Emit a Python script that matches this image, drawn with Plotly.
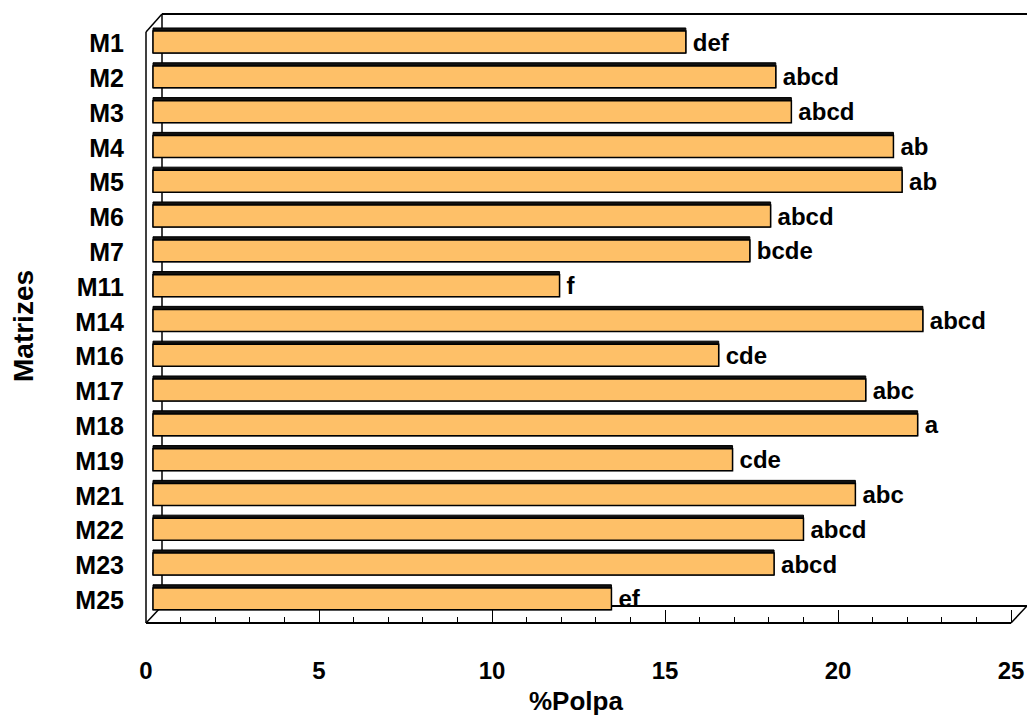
import plotly.graph_objects as go

# Data
categories = ["M1", "M2", "M3", "M4", "M5", "M6", "M7", "M11", "M14",
              "M16", "M17", "M18", "M19", "M21", "M22", "M23", "M25"]
polpa = [15.4, 18.0, 18.45, 21.4, 21.65, 17.85, 17.25, 11.75, 22.25,
         16.35, 20.6, 22.1, 16.75, 20.3, 18.8, 17.95, 13.25]
letters = ["def", "abcd", "abcd", "ab", "ab", "abcd", "bcde", "f", "abcd",
           "cde", "abc", "a", "cde", "abc", "abcd", "abcd", "ef"]
x_ticks = [0, 5, 10, 15, 20, 25]

# Page geometry (pixels)
W, H = 1027, 719
L, R, T, B = 146, 1018, 14, 623          # plot area edges
DEPTH_X, DEPTH_Y = 16, 17                # 3-D floor/wall depth
BAR_SHIFT = 7                            # bar plane offset from front plane
PX_PER_UNIT = (R - L - BAR_SHIFT) / 25.0

FONT = "Liberation Sans, Arial, sans-serif"
ORANGE = "#FEC068"

idx = list(range(len(categories)))
step = 34.8                                 # px per category
first_c = 40.5                              # px of first bar centre
y_top = -(first_c - T) / step
y_bot = (B - first_c) / step

fig = go.Figure()

# dark top face of each bar (3-D depth strip)
fig.add_trace(go.Bar(
    x=polpa, y=idx, orientation="h",
    width=0.72, offset=-0.36,
    marker=dict(color="#111111", line=dict(color="#000000", width=1)),
    hoverinfo="skip", showlegend=False,
))
# front face of each bar
fig.add_trace(go.Bar(
    x=polpa, y=idx, orientation="h",
    width=0.63, offset=-0.27,
    marker=dict(color=ORANGE, line=dict(color="#000000", width=1.5)),
    text=["\u2006" + s for s in letters], textposition="outside",
    constraintext="none",
    textfont=dict(family=FONT, size=24, color="#000000", weight="bold"),
    cliponaxis=False, showlegend=False,
))
# invisible trace that carries the front (labelled) value axis
fig.add_trace(go.Scatter(x=[0, 25], y=[0, 0], xaxis="x2", mode="markers",
                         marker=dict(opacity=0), hoverinfo="skip",
                         showlegend=False))


def px_x(p):
    return (p - L) / (R - L)


def px_y(p):
    return (B - p) / (B - T)


def seg(x0, y0, x1, y1, w=1.5):
    return dict(type="line", xref="paper", yref="paper",
                x0=px_x(x0), y0=px_y(y0), x1=px_x(x1), y1=px_y(y1),
                line=dict(color="#000000", width=w), layer="below")


front0 = L
front25 = L + 25 * PX_PER_UNIT
back_l = L + DEPTH_X
back_y = B - DEPTH_Y
top_l = T + DEPTH_Y + 1

shapes = [
    seg(back_l, T, W + 5, T, 2),                 # back wall top edge
    seg(back_l, T, back_l, back_y, 1.5),         # back wall left edge
    seg(L, top_l, L, B, 1.5),                    # left wall outer edge
    seg(L, top_l, back_l, T, 1.5),               # left wall top diagonal
    seg(back_l, back_y, W + 5, back_y, 2),       # floor back edge
    seg(front0, B, front25, B, 2),               # floor front edge
    seg(front0, B, back_l, back_y, 1.5),         # floor left diagonal
    seg(front25, B, front25 + DEPTH_X, back_y, 1.5),  # floor right diagonal
]

fig.update_layout(
    width=W, height=H,
    margin=dict(l=L, r=W - R, t=T, b=H - B, pad=0, autoexpand=False),
    paper_bgcolor="#FFFFFF", plot_bgcolor="#FFFFFF",
    barmode="overlay",
    font=dict(family=FONT, color="#000000"),
    shapes=shapes,
    xaxis=dict(range=[-BAR_SHIFT / PX_PER_UNIT, 25], visible=False,
               fixedrange=True, automargin=False),
    xaxis2=dict(range=[0, (R - L) / PX_PER_UNIT], overlaying="x",
                side="bottom", anchor="y", automargin=False,
                tickvals=x_ticks, ticktext=[str(v) for v in x_ticks],
                ticks="inside", ticklen=13, tickwidth=1, tickcolor="#000000",
                minor=dict(dtick=1, ticks="inside", ticklen=6, tickwidth=1,
                           tickcolor="#000000", showgrid=False),
                showgrid=False, zeroline=False, showline=False,
                ticklabelstandoff=31,
                tickfont=dict(family=FONT, size=24, weight="bold")),
    yaxis=dict(range=[y_bot, y_top], tickvals=idx, ticktext=categories,
               showgrid=False, zeroline=False, showline=False, ticks="",
               automargin=False,
               ticklabelstandoff=21, ticklabelshift=-3,
               tickfont=dict(family=FONT, size=25, weight="bold")),
    annotations=[
        dict(text="%Polpa", xref="paper", yref="paper",
             x=px_x(576), y=px_y(701), xanchor="center", yanchor="middle",
             showarrow=False,
             font=dict(family=FONT, size=26, weight="bold")),
        dict(text="Matrizes", xref="paper", yref="paper",
             x=px_x(23), y=px_y(326), xanchor="center", yanchor="middle",
             showarrow=False, textangle=-90,
             font=dict(family=FONT, size=28, weight="bold")),
    ],
)

fig.write_html("out.html")
